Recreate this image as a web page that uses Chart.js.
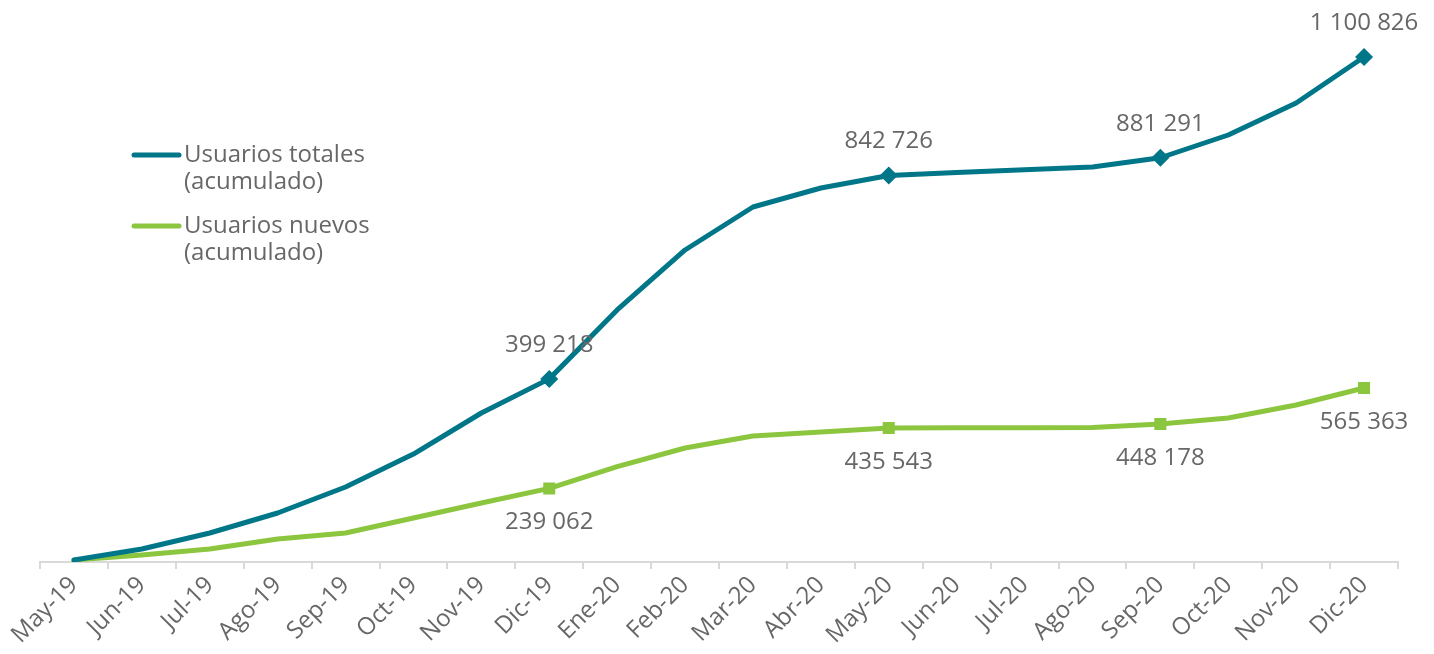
<!DOCTYPE html>
<html>
<head>
<meta charset="utf-8">
<script src="https://cdn.jsdelivr.net/npm/chart.js@4.4.1/dist/chart.umd.min.js"></script>
<style>
  body { margin: 0; background: #fff; }
  #wrap { width: 1434px; height: 654px; }
</style>
</head>
<body>
<div id="wrap"><canvas id="usersChart" width="1434" height="654"></canvas></div>
<script>
// Months on the x axis
const months = ['May-19', 'Jun-19', 'Jul-19', 'Ago-19', 'Sep-19', 'Oct-19', 'Nov-19', 'Dic-19',
    'Ene-20', 'Feb-20', 'Mar-20', 'Abr-20', 'May-20', 'Jun-20', 'Jul-20', 'Ago-20',
    'Sep-20', 'Oct-20', 'Nov-20', 'Dic-20'];

// Cumulative users (labelled points read exactly, the rest estimated)
const totalUsers = [4400, 28300, 63200, 106800, 163500, 235400, 324800, 399218,
    549400, 680200, 773900, 815300, 842726, 849000, 855000, 861100,
    881291, 930900, 1000700, 1100826];
const newUsers = [6500, 22700, 42200, 74700, 94200, 143000, 191700, 239062,
    310000, 370400, 409400, 422400, 435543, 436000, 436300, 437000,
    448178, 467800, 510100, 565363];

// Months that carry a marker and a value label
const labelledMonths = ['Dic-19', 'May-20', 'Sep-20', 'Dic-20'];

const seriesNames = [['Usuarios totales', '(acumulado)'], ['Usuarios nuevos', '(acumulado)']];

const BLUE = '#007689';
const GREEN = '#8cc63f';
const TEXT = '#676767';
const FONT = '"Open Sans", "Noto Sans", sans-serif';

const isMarked = i => labelledMonths.includes(months[i]);
const fmt = v => String(v).replace(/\B(?=(\d{3})+(?!\d))/g, ' ');

// value labels next to the marked points
const valueLabels = {
    id: 'valueLabels',
    afterDatasetsDraw(chart) {
        const ctx = chart.ctx;
        ctx.save();
        ctx.font = '24px ' + FONT;
        ctx.fillStyle = TEXT;
        ctx.textAlign = 'center';
        ctx.textBaseline = 'middle';
        chart.data.datasets.forEach((ds, di) => {
            const meta = chart.getDatasetMeta(di);
            meta.data.forEach((pt, i) => {
                if (!isMarked(i)) return;
                const dy = di === 0 ? -34 : 34;
                ctx.fillText(fmt(ds.data[i]), pt.x, pt.y + dy);
            });
        });
        ctx.restore();
    }
};

// legend drawn inside the plot, top left
const sideLegend = {
    id: 'sideLegend',
    afterDraw(chart) {
        const ctx = chart.ctx;
        ctx.save();
        ctx.font = '24px ' + FONT;
        ctx.textBaseline = 'middle';
        ctx.lineCap = 'round';
        chart.data.datasets.forEach((ds, di) => {
            const y = 155 + di * 71;
            ctx.strokeStyle = ds.borderColor;
            ctx.lineWidth = 5;
            ctx.beginPath();
            ctx.moveTo(134, y);
            ctx.lineTo(179, y);
            ctx.stroke();
            ctx.fillStyle = TEXT;
            seriesNames[di].forEach((line, li) => {
                ctx.fillText(line, 184, y + li * 27);
            });
        });
        ctx.restore();
    }
};

new Chart(document.getElementById('usersChart'), {
    type: 'line',
    data: {
        labels: months,
        datasets: [{
            label: seriesNames[0].join(' '),
            data: totalUsers,
            yAxisID: 'y',
            borderColor: BLUE,
            backgroundColor: BLUE,
            borderWidth: 5,
            borderCapStyle: 'round',
            borderJoinStyle: 'round',
            tension: 0,
            pointStyle: 'rectRot',
            pointRadius: months.map((m, i) => isMarked(i) ? 9 : 0),
            pointBorderWidth: 0,
            order: 0
        }, {
            label: seriesNames[1].join(' '),
            data: newUsers,
            yAxisID: 'y1',
            borderColor: GREEN,
            backgroundColor: GREEN,
            borderWidth: 5,
            borderCapStyle: 'round',
            borderJoinStyle: 'round',
            tension: 0,
            pointStyle: 'rect',
            pointRadius: months.map((m, i) => isMarked(i) ? 8.5 : 0),
            pointBorderWidth: 0,
            order: 1
        }]
    },
    options: {
        responsive: false,
        animation: false,
        layout: { padding: { left: 40, right: 36, top: 20, bottom: 0 } },
        plugins: {
            legend: { display: false },
            tooltip: { enabled: false }
        },
        scales: {
            x: {
                offset: true,
                grid: {
                    offset: true,
                    drawOnChartArea: false,
                    color: '#d9d9d9',
                    lineWidth: 2,
                    tickLength: 7
                },
                border: { color: '#d9d9d9', width: 2 },
                ticks: {
                    autoSkip: false,
                    minRotation: 45,
                    maxRotation: 45,
                    padding: 2,
                    color: TEXT,
                    font: { family: FONT, size: 24 }
                },
                afterFit(scale) { scale.height = 92; }
            },
            y: { display: false, min: 0, max: 1181600 },
            y1: { display: false, min: 0, max: 1760900 }
        }
    },
    plugins: [valueLabels, sideLegend]
});
</script>
</body>
</html>
